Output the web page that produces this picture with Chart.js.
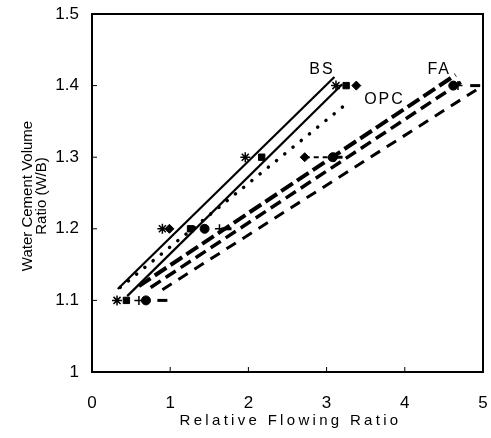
<!DOCTYPE html>
<html>
<head>
<meta charset="utf-8">
<title>W/B vs Relative Flowing Ratio</title>
<script src="https://cdn.jsdelivr.net/npm/chart.js@4.4.0/dist/chart.umd.min.js"></script>
<style>
    html, body { margin: 0; padding: 0; background: #fff; }
    #chart { display: block; }
</style>
</head>
<body>
<canvas id="chart" width="491" height="438"></canvas>
<script>
// W/B levels where the mixes were measured
const wbLevels = [1.1, 1.2, 1.3, 1.4];

// marker x values (relative flowing ratio) at each W/B level
const bsStarX = [0.32, 0.9, 1.96, 3.12];
const bsSquareX = [0.44, 1.26, 2.17, 3.25];
const opcDiamondX = [null, 0.99, 2.72, 3.38];
const faCircleX = [0.69, 1.44, 3.08, 4.62];
const faPlusX = [0.6, 1.63, 3.1, 4.68];
const faDashX = [0.9, 1.72, 3.14, 4.9];

// fitted lines (end points)
const bsLine1X = [0.33, 3.1];
const bsLine1Y = [1.116, 1.412];
const bsLine2X = [0.45, 3.2];
const bsLine2Y = [1.106, 1.402];
const opcLineX = [0.36, 3.27];
const opcLineY = [1.118, 1.376];
const faLine1X = [0.6, 4.65];
const faLine1Y = [1.12, 1.415];
const faLine2X = [0.75, 4.75];
const faLine2Y = [1.118, 1.407];
const faLine3X = [0.9, 5.0];
const faLine3Y = [1.115, 1.40];
const connectorX = [2.72, 3.08];
const connectorY = [1.3, 1.3];

// tick values
const xTicks = [0, 1, 2, 3, 4, 5];
const yTicks = [1, 1.1, 1.2, 1.3, 1.4, 1.5];

// curve labels: [text, x, y]
const curveLabels = [
    ["BS", 2.94, 1.423],
    ["OPC", 3.74, 1.381],
    ["FA", 4.44, 1.423],
];

const FONT = "'Liberation Sans', Arial, Helvetica, sans-serif";

function pts(xs, ys) {
    const out = [];
    xs.forEach((x, i) => {
        if (x !== null) out.push({ x: x, y: ys[i] });
    });
    return out;
}

function lineSet(xs, ys, width, dash, cap) {
    return {
        type: "line",
        data: pts(xs, ys),
        borderColor: "#000",
        borderWidth: width,
        borderDash: dash,
        borderCapStyle: cap || "butt",
        pointRadius: 0,
        showLine: true,
        fill: false,
    };
}

function markerSet(xs, style, radius, width) {
    return {
        type: "scatter",
        data: pts(xs, wbLevels),
        pointStyle: style,
        pointRadius: radius,
        pointBackgroundColor: "#000",
        pointBorderColor: "#000",
        pointBorderWidth: width,
    };
}

// frame, inward ticks, titles, curve labels
const decorPlugin = {
    id: "decor",
    afterDraw(chart) {
        const ctx = chart.ctx;
        const a = chart.chartArea;
        const xs = chart.scales.x;
        const ys = chart.scales.y;
        ctx.save();
        ctx.strokeStyle = "#000";
        ctx.lineWidth = 2;
        ctx.strokeRect(a.left, a.top, a.right - a.left, a.bottom - a.top);

        ctx.lineWidth = 1;
        ctx.beginPath();
        yTicks.forEach((v) => {
            const py = ys.getPixelForValue(v);
            ctx.moveTo(a.left, py);
            ctx.lineTo(a.left + 5, py);
        });
        xTicks.forEach((v) => {
            const px = xs.getPixelForValue(v);
            ctx.moveTo(px, a.bottom);
            ctx.lineTo(px, a.bottom - 5);
        });
        ctx.stroke();

        ctx.fillStyle = "#000";
        ctx.textAlign = "center";
        ctx.textBaseline = "middle";

        // x title
        ctx.font = "15px " + FONT;
        ctx.letterSpacing = "3.3px";
        ctx.fillText("Relative Flowing Ratio", (a.left + a.right) / 2 + 3, 421);

        // y title
        ctx.letterSpacing = "0px";
        ctx.font = "15px " + FONT;
        ctx.save();
        ctx.translate(28, 196);
        ctx.rotate(-Math.PI / 2);
        ctx.fillText("Water Cement Volume", 0, 0);
        ctx.fillText("Ratio (W/B)", 0, 14);
        ctx.restore();

        // curve labels
        ctx.font = "16px " + FONT;
        ctx.letterSpacing = "2px";
        curveLabels.forEach(([t, x, y]) => {
            ctx.fillText(t, xs.getPixelForValue(x), ys.getPixelForValue(y));
        });
        ctx.restore();
    },
};

const ctx = document.getElementById("chart").getContext("2d");

new Chart(ctx, {
    data: {
        datasets: [
            lineSet(bsLine1X, bsLine1Y, 2.2, []),
            lineSet(bsLine2X, bsLine2Y, 2.2, []),
            lineSet(opcLineX, opcLineY, 3.5, [0.1, 10.5], "round"),
            lineSet(faLine1X, faLine1Y, 4, [14, 5]),
            lineSet(faLine2X, faLine2Y, 3.5, [12, 6]),
            lineSet(faLine3X, faLine3Y, 3, [11, 8]),
            lineSet(connectorX, connectorY, 2, [5, 4]),
            markerSet(bsStarX, "star", 5, 1.5),
            markerSet(bsSquareX, "rect", 4.5, 1),
            markerSet(opcDiamondX, "rectRot", 4.5, 1),
            markerSet(faCircleX, "circle", 4.5, 1),
            markerSet(faPlusX, "cross", 4.5, 1.5),
            markerSet(faDashX, "line", 5, 3),
        ],
    },
    options: {
        responsive: false,
        animation: false,
        events: [],
        layout: { padding: { top: 14, right: 6, left: 0, bottom: 0 } },
        plugins: {
            legend: { display: false },
            tooltip: { enabled: false },
        },
        scales: {
            x: {
                type: "linear",
                min: 0,
                max: 5,
                afterBuildTicks: (scale) => {
                    scale.ticks = xTicks.map((v) => ({ value: v }));
                },
                ticks: {
                    color: "#000",
                    padding: 21,
                    font: { family: FONT, size: 17 },
                    maxRotation: 0,
                },
                grid: { display: false, drawTicks: false },
                border: { display: false },
                afterFit: (scale) => {
                    scale.height = 66;
                    scale.paddingLeft = 0;
                    scale.paddingRight = 0;
                },
            },
            y: {
                type: "linear",
                min: 1,
                max: 1.5,
                afterBuildTicks: (scale) => {
                    scale.ticks = yTicks.map((v) => ({ value: v }));
                },
                ticks: {
                    color: "#000",
                    padding: 13,
                    font: { family: FONT, size: 17 },
                    callback: (v) => String(Math.round(v * 10) / 10),
                },
                grid: { display: false, drawTicks: false },
                border: { display: false },
                afterFit: (scale) => {
                    scale.width = 92;
                    scale.paddingTop = 0;
                    scale.paddingBottom = 0;
                },
            },
        },
    },
    plugins: [decorPlugin],
});
</script>
</body>
</html>
